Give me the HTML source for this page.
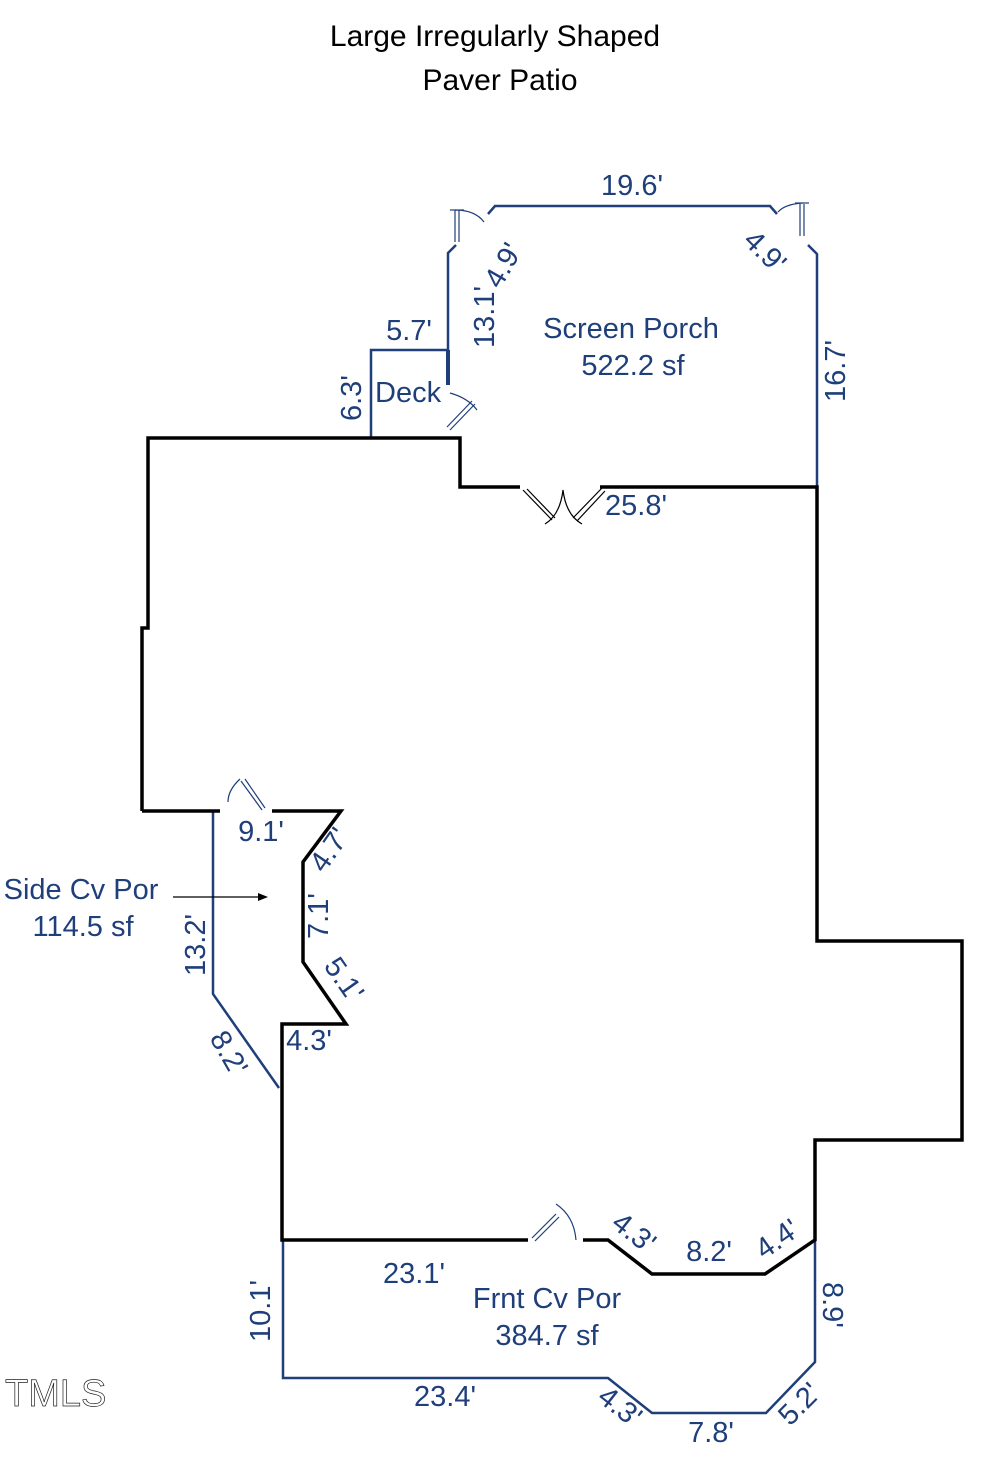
<!DOCTYPE html>
<html><head><meta charset="utf-8"><style>
html,body{margin:0;padding:0;background:#fff;}
svg{display:block;}
text{font-family:"Liberation Sans",Arial,sans-serif;}
.b{fill:#1f3f7a;font-size:29px;}
</style></head><body>
<svg width="990" height="1458" viewBox="0 0 990 1458" xmlns="http://www.w3.org/2000/svg">
<text x="495" y="46" font-size="30" text-anchor="middle" fill="#000">Large Irregularly Shaped</text>
<text x="500" y="90" font-size="30" text-anchor="middle" fill="#000">Paver Patio</text>

<g fill="none" stroke="#1f3f7a" stroke-width="2.5">
<polyline points="448,382 448,253 456,245"/>
<polyline points="488,214 495,206 770,206 777,214"/>
<polyline points="808,245 817,254 817,487"/>
<polyline points="371,438 371,350 448,350"/>
<polyline points="213,811 213,994 279,1088"/>
<polyline points="283,1240 283,1378 608,1378 652,1413 766,1413 815,1362 815,1240"/>
</g>
<line x1="448" y1="350" x2="448" y2="385" stroke="#1f3f7a" stroke-width="4"/>

<g fill="none" stroke="#000" stroke-width="3.5" stroke-linejoin="miter">
<polyline points="142,811 142,628 148,628 148,438 460,438 460,487 520,487"/>
<polyline points="600,487 817,487 817,941 962,941 962,1140 815,1140 815,1240 765,1274 652,1274 608,1240 583,1240"/>
<polyline points="528,1240 282,1240 282,1024 346,1024 303,962 303,862 341,811 272,811"/>
<polyline points="220,811 142,811"/>
</g>

<g fill="none" stroke="#1f3f7a" stroke-width="1.2">
<line x1="455" y1="210" x2="455" y2="242"/><line x1="459" y1="210" x2="459" y2="242"/>
<line x1="450" y1="210" x2="464" y2="210"/>
<path d="M455,210 Q475,210 484,222"/>
<line x1="800" y1="204" x2="800" y2="236"/><line x1="804" y1="204" x2="804" y2="236"/>
<line x1="795" y1="203" x2="809" y2="203"/>
<path d="M803,203 Q785,204 778,212"/>
<line x1="447" y1="427" x2="472" y2="401"/><line x1="450" y1="430" x2="475" y2="404"/>
<path d="M450,393 Q468,398 477,410"/>
<line x1="241" y1="781" x2="262" y2="810"/><line x1="245" y1="779" x2="265" y2="808"/>
<path d="M240,779 Q228,790 228,802"/>
<line x1="532" y1="1238" x2="556" y2="1214"/><line x1="535" y1="1241" x2="559" y2="1217"/>
<path d="M556,1204 Q574,1216 576,1240"/>
</g>
<g fill="none" stroke="#000" stroke-width="1.2">
<line x1="523" y1="490" x2="552" y2="520"/><line x1="527" y1="489" x2="555" y2="518"/>
<line x1="602" y1="488" x2="573" y2="518"/><line x1="605" y1="491" x2="577" y2="521"/>
<path d="M545,524 Q560,515 563,490 Q566,515 582,524"/>
<line x1="173" y1="897" x2="260" y2="897"/>
</g>
<polygon points="268,897 258,893 258,901" fill="#000"/>

<g class="b">
<text x="632" y="195" text-anchor="middle">19.6'</text>
<text x="631" y="338" text-anchor="middle">Screen Porch</text>
<text x="633" y="375" text-anchor="middle">522.2 sf</text>
<text x="409" y="340" text-anchor="middle">5.7'</text>
<text x="375" y="402">Deck</text>
<text x="636" y="515" text-anchor="middle">25.8'</text>
<text x="261" y="841" text-anchor="middle">9.1'</text>
<text x="81" y="899" text-anchor="middle">Side Cv Por</text>
<text x="83" y="936" text-anchor="middle">114.5 sf</text>
<text x="309" y="1050" text-anchor="middle">4.3'</text>
<text x="414" y="1283" text-anchor="middle">23.1'</text>
<text x="547" y="1308" text-anchor="middle">Frnt Cv Por</text>
<text x="547" y="1345" text-anchor="middle">384.7 sf</text>
<text x="709" y="1261" text-anchor="middle">8.2'</text>
<text x="445" y="1406" text-anchor="middle">23.4'</text>
<text x="711" y="1442" text-anchor="middle">7.8'</text>
<text transform="translate(494,348) rotate(-90)">13.1'</text>
<text transform="translate(500,290) rotate(-60)">4.9'</text>
<text transform="translate(742,242) rotate(45)">4.9'</text>
<text transform="translate(845,402) rotate(-90)">16.7'</text>
<text transform="translate(361,421) rotate(-90)">6.3'</text>
<text transform="translate(205,976) rotate(-90)">13.2'</text>
<text transform="translate(209,1038) rotate(60)">8.2'</text>
<text transform="translate(324,874) rotate(-55)">4.7'</text>
<text transform="translate(328,939) rotate(-90)">7.1'</text>
<text transform="translate(323,966) rotate(55)">5.1'</text>
<text transform="translate(270,1342) rotate(-90)">10.1'</text>
<text transform="translate(610,1226) rotate(38)">4.3'</text>
<text transform="translate(764,1260) rotate(-35)">4.4'</text>
<text transform="translate(823,1282) rotate(90)">8.9'</text>
<text transform="translate(596,1400) rotate(38)">4.3'</text>
<text transform="translate(790,1427) rotate(-45)">5.2'</text>
</g>
<text x="5" y="1406" font-size="38" fill="#fff" stroke="#222" stroke-width="0.7">TMLS</text>
</svg>
</body></html>
